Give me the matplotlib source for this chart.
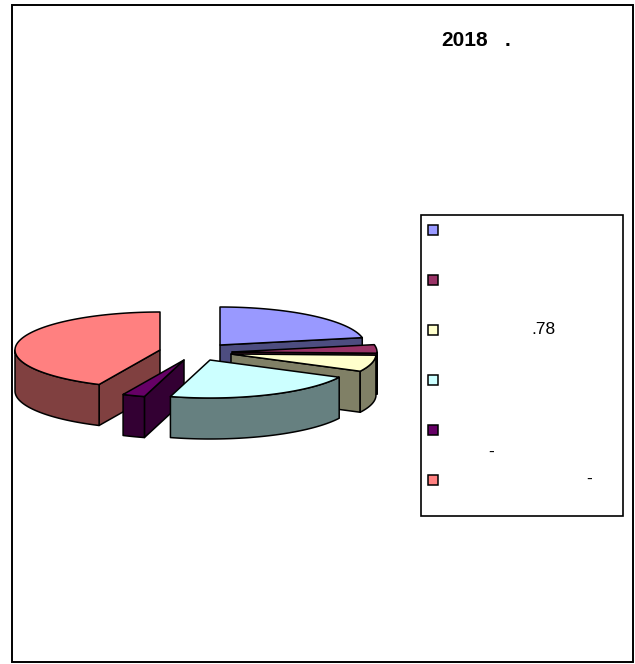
import numpy as np
import matplotlib
matplotlib.use("Agg")
import matplotlib.pyplot as plt
from matplotlib.patches import Polygon, Rectangle

plt.rcParams["font.family"] = ["Liberation Sans", "DejaVu Sans"]

# shares of the pie, in percent, clockwise from 12 o'clock
shares = [21.9, 3.6, 7.0, 21.9, 2.5, 43.1]
top_colors = ["#9999FF", "#993366", "#FFFFCC", "#CCFFFF", "#660066", "#FF8080"]
side_colors = ["#4D4D80", "#4D1A33", "#808066", "#668080", "#330033", "#804040"]
legend_labels = ["", "", ".78", "", "", ""]

# layout, in pixels of the reference
centers = [(220, 345), (232, 352), (231, 354), (210, 360), (184, 360), (160, 350)]
RX, RY, DEPTH = 145, 38, 41
draw_order = [5, 4, 0, 1, 2, 3]

fig = plt.figure(figsize=(6.35, 6.64), dpi=100, facecolor="white")
ax = fig.add_axes([0, 0, 1, 1])
ax.set_xlim(0, 635)
ax.set_ylim(664, 0)
ax.axis("off")

ax.add_patch(Rectangle((12, 5), 621, 657, fc="white", ec="black", lw=1.4))


def rim(c, t):
    return np.column_stack([c[0] + RX * np.cos(t), c[1] - RY * np.sin(t)])


def face(pts, color):
    ax.add_patch(Polygon(pts, closed=True, fc=color, ec="black", lw=1.1, joinstyle="round"))


edges = 90 - np.concatenate([[0], np.cumsum(shares)]) * 3.6
for i in draw_order:
    c = centers[i]
    a1, a2 = np.radians(edges[i]), np.radians(edges[i + 1])
    down = np.array([0, DEPTH])

    # cut faces that look towards the viewer
    for a, show in ((a1, np.cos(a1) < 0), (a2, np.cos(a2) > 0)):
        if show:
            p = rim(c, a)[0]
            face([c, p, p + down, np.array(c) + down], side_colors[i])

    # outer wall, only the front half of the rim
    lo, hi = max(a2, np.radians(-180)), min(a1, 0)
    if hi > lo:
        arc = rim(c, np.linspace(hi, lo, 60))
        face(np.vstack([arc, arc[::-1] + down]), side_colors[i])

    t = np.linspace(a1, a2, 120)
    face(np.vstack([[c], rim(c, t)]), top_colors[i])

# legend
ax.add_patch(Rectangle((421, 215), 202, 301, fc="white", ec="black", lw=1.2))
for k, (col, lab) in enumerate(zip(top_colors, legend_labels)):
    y = 230 + 50 * k
    ax.add_patch(Rectangle((428, y - 5), 10, 10, fc=col, ec="black", lw=1.1))
    if lab:
        ax.text(531, y - 1, lab, fontsize=12.5, va="center", ha="left")
ax.text(488, 452, "-", fontsize=12.5, va="center", ha="left")
ax.text(586, 479, "-", fontsize=12.5, va="center", ha="left")

ax.text(441, 40, "2018", fontsize=15, fontweight="bold", va="center", ha="left")
ax.text(505, 40, ".", fontsize=15, fontweight="bold", va="center", ha="left")

fig.savefig("out.png", dpi=100)
